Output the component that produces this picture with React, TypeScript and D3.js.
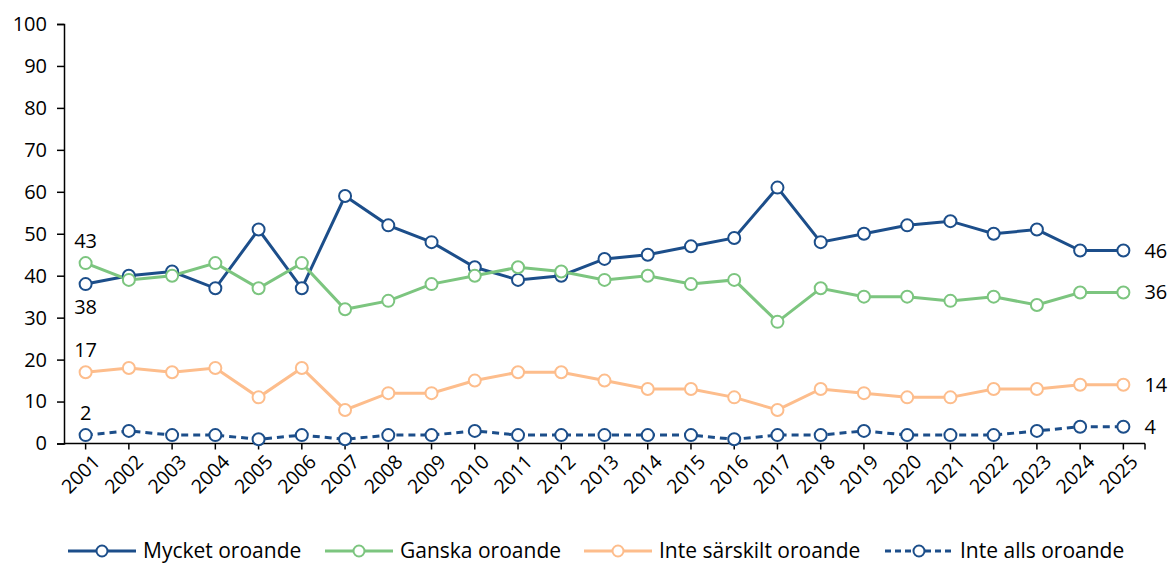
import React, { useRef, useEffect } from "react";
import * as d3 from "d3";

const years = [
  "2001", "2002", "2003", "2004", "2005", "2006", "2007", "2008", "2009", "2010",
  "2011", "2012", "2013", "2014", "2015", "2016", "2017", "2018", "2019", "2020",
  "2021", "2022", "2023", "2024", "2025",
];

const mycket = [38, 40, 41, 37, 51, 37, 59, 52, 48, 42, 39, 40, 44, 45, 47, 49, 61, 48, 50, 52, 53, 50, 51, 46, 46];
const ganska = [43, 39, 40, 43, 37, 43, 32, 34, 38, 40, 42, 41, 39, 40, 38, 39, 29, 37, 35, 35, 34, 35, 33, 36, 36];
const inteSarskilt = [17, 18, 17, 18, 11, 18, 8, 12, 12, 15, 17, 17, 15, 13, 13, 11, 8, 13, 12, 11, 11, 13, 13, 14, 14];
const inteAlls = [2, 3, 2, 2, 1, 2, 1, 2, 2, 3, 2, 2, 2, 2, 2, 1, 2, 2, 3, 2, 2, 2, 3, 4, 4];

const yTicks = [0, 10, 20, 30, 40, 50, 60, 70, 80, 90, 100];

const series = [
  { name: "Mycket oroande", values: mycket, color: "#1c4e8a", dash: null, firstLabelBelow: true },
  { name: "Ganska oroande", values: ganska, color: "#7cc57f", dash: null, firstLabelBelow: false },
  { name: "Inte särskilt oroande", values: inteSarskilt, color: "#fdbd8c", dash: null, firstLabelBelow: false },
  { name: "Inte alls oroande", values: inteAlls, color: "#1c4e8a", dash: "7,5", firstLabelBelow: false },
];

const FONT = "'Open Sans', sans-serif";

function Chart() {
  const svgRef = useRef<SVGSVGElement>(null);

  useEffect(() => {
    const svg = d3.select(svgRef.current);
    svg.selectAll("*").remove();

    const margin = { top: 24, right: 27, bottom: 120, left: 64 };
    const width = 1172 - margin.left - margin.right;
    const height = 443.5 - margin.top;

    const x = d3.scaleBand().domain(years).range([0, width]);
    const y = d3.scaleLinear().domain([0, 100]).range([height, 0]);
    const cx = (i: number) => (x(years[i]) as number) + x.bandwidth() / 2;

    const g = svg.append("g").attr("transform", `translate(${margin.left},${margin.top})`);

    // y axis
    const yAxis = g.append("g").call(d3.axisLeft(y).tickValues(yTicks).tickSize(7).tickPadding(10));
    yAxis.select(".domain").attr("stroke", "#000").attr("stroke-width", 1.5);
    yAxis.selectAll(".tick line").attr("stroke", "#000").attr("stroke-width", 1.5);
    yAxis.selectAll("text").attr("font-family", FONT).attr("font-size", 20).attr("fill", "#000");

    // x axis
    const xAxis = g.append("g").attr("transform", `translate(0,${height})`);
    xAxis.append("line").attr("x1", 0).attr("x2", width).attr("stroke", "#000").attr("stroke-width", 1.5);
    const tickXs = years.map((_, i) => cx(i)).concat([width]);
    xAxis
      .selectAll("line.tk")
      .data(tickXs)
      .enter()
      .append("line")
      .attr("class", "tk")
      .attr("x1", (d) => d)
      .attr("x2", (d) => d)
      .attr("y1", 0)
      .attr("y2", 6)
      .attr("stroke", "#000")
      .attr("stroke-width", 1.5);
    xAxis
      .selectAll("text")
      .data(years)
      .enter()
      .append("text")
      .attr("transform", (_, i) => `translate(${cx(i) + 6},${10}) rotate(-45)`)
      .attr("text-anchor", "end")
      .attr("dy", "0.7em")
      .attr("font-family", FONT)
      .attr("font-size", 19.5)
      .attr("font-weight", 500)
      .text((d) => d);

    // lines + markers
    const line = d3
      .line<number>()
      .x((_, i) => cx(i))
      .y((d) => y(d));

    series.forEach((s) => {
      g.append("path")
        .datum(s.values)
        .attr("d", line)
        .attr("fill", "none")
        .attr("stroke", s.color)
        .attr("stroke-width", 3)
        .attr("stroke-dasharray", s.dash);
    });

    series.forEach((s) => {
      g.selectAll(null)
        .data(s.values)
        .enter()
        .append("circle")
        .attr("cx", (_, i) => cx(i))
        .attr("cy", (d) => y(d))
        .attr("r", 6)
        .attr("fill", "#fff")
        .attr("stroke", s.color)
        .attr("stroke-width", 2);
    });

    // data labels at first and last points
    series.forEach((s) => {
      const first = s.values[0];
      const last = s.values[s.values.length - 1];
      g.append("text")
        .attr("x", cx(0))
        .attr("y", s.firstLabelBelow ? y(first) + 30 : y(first) - 15)
        .attr("text-anchor", "middle")
        .attr("font-family", FONT)
        .attr("font-size", 20)
        .text(first);
      g.append("text")
        .attr("x", cx(years.length - 1) + 21)
        .attr("y", y(last))
        .attr("dy", "0.35em")
        .attr("font-family", FONT)
        .attr("font-size", 20)
        .text(last);
    });

    // legend
    const legendX = [68, 325, 584, 885];
    const legend = svg.append("g").attr("transform", "translate(0,551)");
    series.forEach((s, i) => {
      const lg = legend.append("g").attr("transform", `translate(${legendX[i]},0)`);
      lg.append("line")
        .attr("x1", 0)
        .attr("x2", 68)
        .attr("stroke", s.color)
        .attr("stroke-width", 3)
        .attr("stroke-dasharray", s.dash ? "6,4" : null);
      lg.append("circle")
        .attr("cx", 34)
        .attr("r", 5.5)
        .attr("fill", "#fff")
        .attr("stroke", s.color)
        .attr("stroke-width", 2);
      lg.append("text")
        .attr("x", 75)
        .attr("dy", "0.35em")
        .attr("font-family", FONT)
        .attr("font-size", 21)
        .text(s.name);
    });
  }, []);

  return <svg ref={svgRef} width={1172} height={563} style={{ display: "block" }} />;
}

export default function App() {
  return (
    <div style={{ position: "absolute", left: 0, top: 0, background: "#fff" }}>
      <Chart />
    </div>
  );
}
